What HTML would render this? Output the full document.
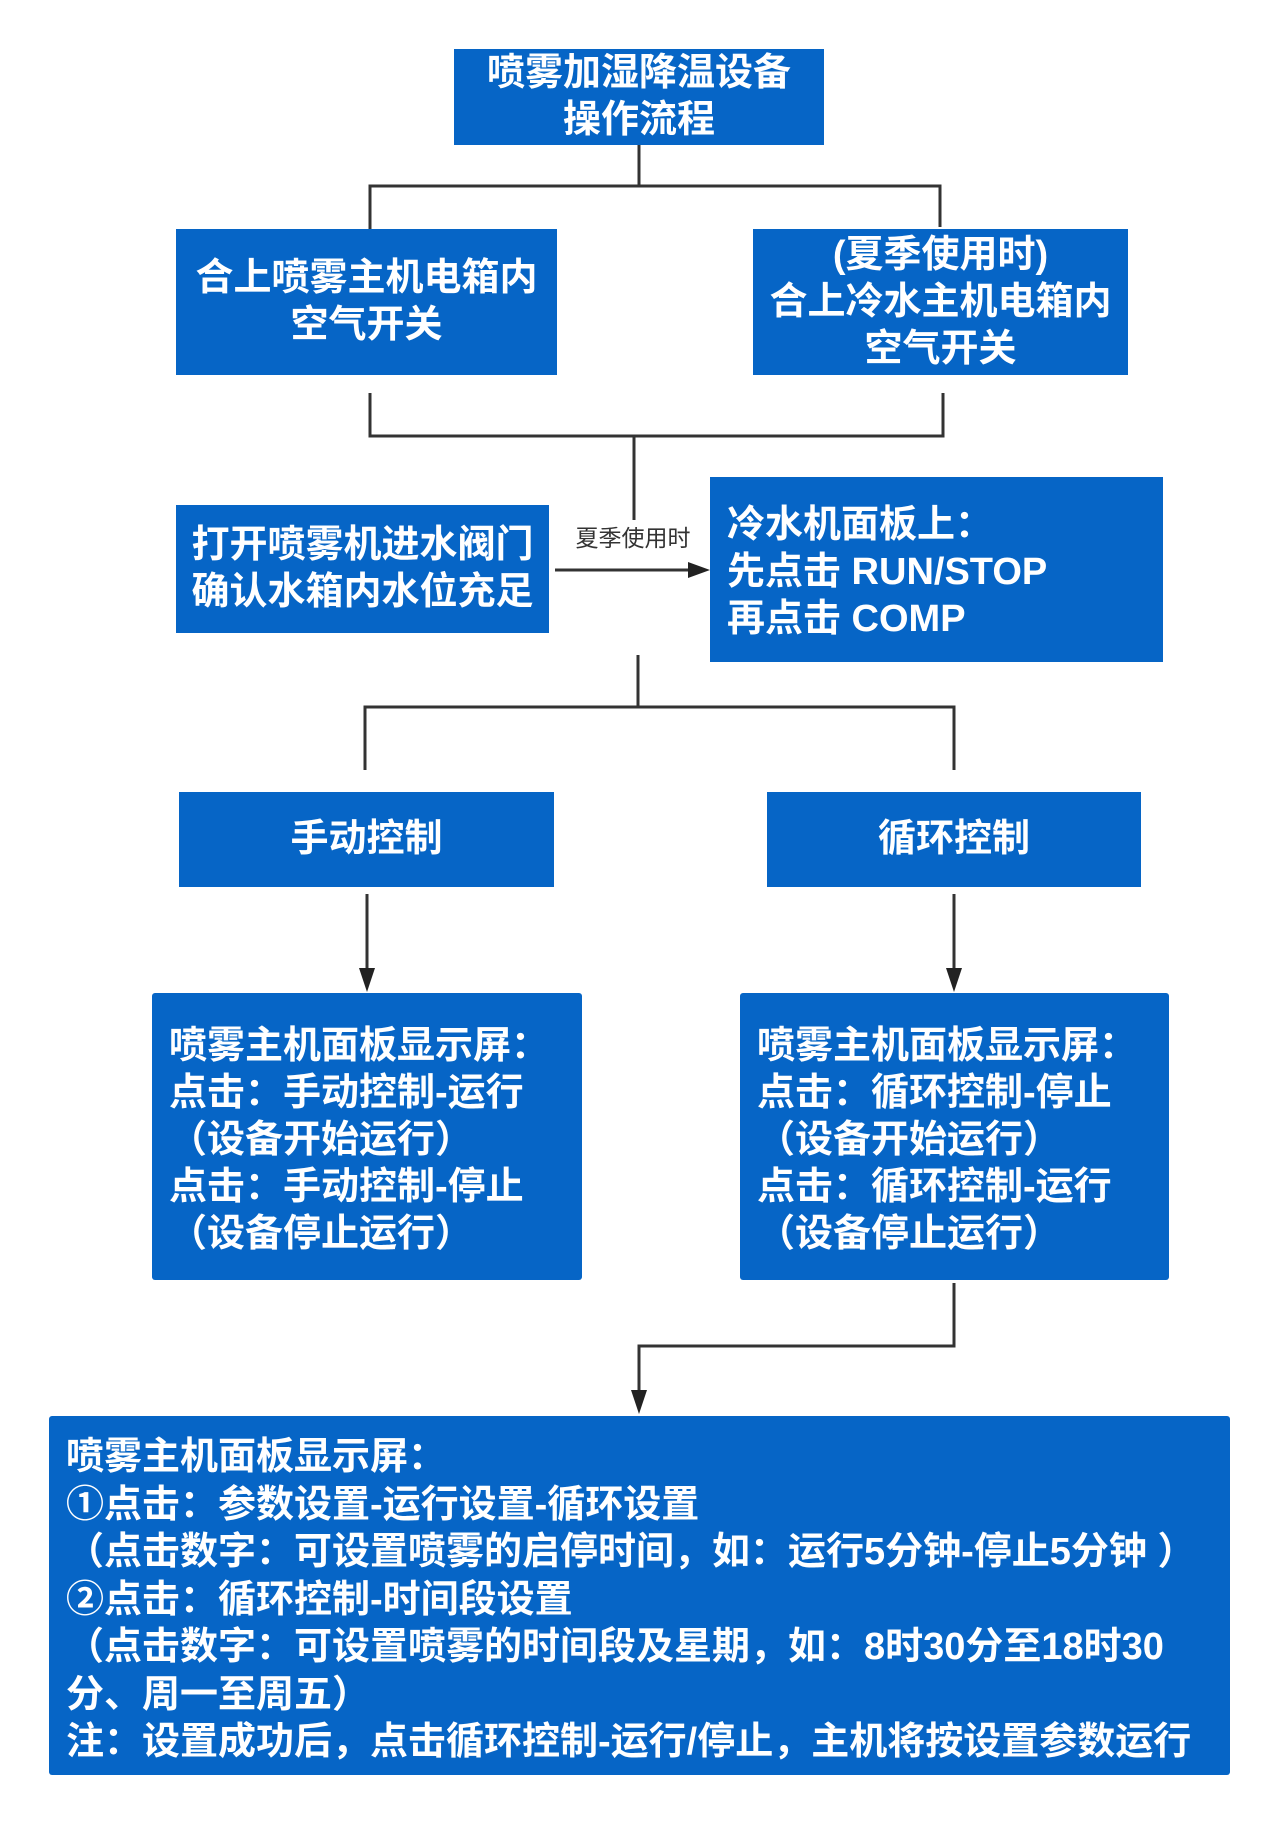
<!DOCTYPE html>
<html><head><meta charset="utf-8"><style>
body{margin:0;width:1280px;height:1826px;background:#fff;position:relative;overflow:hidden;font-family:"Liberation Sans","Noto Sans CJK SC",sans-serif;}
.b{position:absolute;background:#0665c6;color:#fff;font-weight:bold;font-size:38px;line-height:47px;box-sizing:border-box;}
.c{display:flex;flex-direction:column;align-items:center;justify-content:center;text-align:center;}
.l{padding-left:17px;white-space:nowrap;}
svg{position:absolute;left:0;top:0;}
</style></head><body>
<svg width="1280" height="1826" viewBox="0 0 1280 1826">
<g stroke="#333" stroke-width="3" fill="none">
<polyline points="639,145 639,186"/>
<polyline points="370,229 370,186 940,186 940,227"/>
<polyline points="370,393 370,436 943,436 943,393"/>
<polyline points="634,436 634,520"/>
<polyline points="555,570 690,570"/>
<polyline points="638,655 638,707"/>
<polyline points="365,770 365,707 954,707 954,770"/>
<polyline points="367,894 367,970"/>
<polyline points="954,894 954,970"/>
<polyline points="954,1283 954,1346 639,1346 639,1392"/>
</g>
<g fill="#222">
<polygon points="688,562 710,570 688,578"/>
<polygon points="359,968 375,968 367,992"/>
<polygon points="946,968 962,968 954,992"/>
<polygon points="631,1390 647,1390 639,1414"/>
</g>
<text x="633" y="546" font-size="23" text-anchor="middle" fill="#333" font-family="Liberation Sans,Noto Sans CJK SC,sans-serif">夏季使用时</text>
</svg>
<div class="b c" style="left:454px;top:49px;width:370px;height:96px;">喷雾加湿降温设备<br>操作流程</div>
<div class="b c" style="left:176px;top:229px;width:381px;height:146px;">合上喷雾主机电箱内<br>空气开关</div>
<div class="b c" style="left:753px;top:229px;width:375px;height:146px;">(夏季使用时)<br>合上冷水主机电箱内<br>空气开关</div>
<div class="b c" style="left:176px;top:505px;width:373px;height:128px;">打开喷雾机进水阀门<br>确认水箱内水位充足</div>
<div class="b l" style="left:710px;top:477px;width:453px;height:185px;padding-top:25px;">冷水机面板上：<br>先点击 RUN/STOP<br>再点击 COMP</div>
<div class="b c" style="left:179px;top:792px;width:375px;height:95px;">手动控制</div>
<div class="b c" style="left:767px;top:792px;width:374px;height:95px;">循环控制</div>
<div class="b l" style="left:152px;top:993px;width:430px;height:287px;padding-top:30px;border-radius:3px;">喷雾主机面板显示屏：<br>点击：手动控制-运行<br>（设备开始运行）<br>点击：手动控制-停止<br>（设备停止运行）</div>
<div class="b l" style="left:740px;top:993px;width:429px;height:287px;padding-top:30px;border-radius:3px;">喷雾主机面板显示屏：<br>点击：循环控制-停止<br>（设备开始运行）<br>点击：循环控制-运行<br>（设备停止运行）</div>
<div class="b l" style="left:49px;top:1416px;width:1181px;height:359px;padding-top:18px;border-radius:3px;line-height:47.5px;">喷雾主机面板显示屏：<br>①点击：参数设置-运行设置-循环设置<br>（点击数字：可设置喷雾的启停时间，如：运行5分钟-停止5分钟 ）<br>②点击：循环控制-时间段设置<br>（点击数字：可设置喷雾的时间段及星期，如：8时30分至18时30<br>分、周一至周五）<br>注：设置成功后，点击循环控制-运行/停止，主机将按设置参数运行</div>
</body></html>
